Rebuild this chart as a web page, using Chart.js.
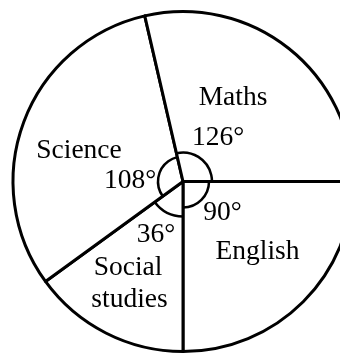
<!DOCTYPE html>
<html>
<head>
<meta charset="utf-8">
<script src="https://cdn.jsdelivr.net/npm/chart.js@4/dist/chart.umd.min.js"></script>
<style>
  html, body { margin: 0; padding: 0; background: #fff; overflow: hidden; }
  #wrap { width: 340px; height: 353px; overflow: hidden; position: relative; }
  canvas { position: absolute; left: 0; top: 0; }
</style>
</head>
<body>
<div id="wrap"><canvas id="grafico" width="366" height="363"></canvas></div>
<script>
// slices in clockwise order starting from the east
const subjects = ['English', 'Social studies', 'Science', 'Maths'];
// slice sizes as drawn in the picture (degrees)
const drawnAngles = [90, 54, 113, 103];
// angle labels written on the picture
const angleLabels = ['90°', '36°', '108°', '126°'];

// label offsets from the pie centre, in px
const nameOffsets = [[[74.5, 77.5]], [[-55, 93.5], [-53.5, 125.5]], [[-104, -24]], [[50, -76.5]]];
const nameLines = [['English'], ['Social', 'studies'], ['Science'], ['Maths']];
const angleOffsets = [[39.5, 38.5], [-27, 60], [-53, 6], [35, -36.5]];
const markRadius = [26, 35, 25, 29];

const FONT = '27.5px "Liberation Serif", "Times New Roman", serif';

const labelsPlugin = {
  id: 'labelsPlugin',
  afterDatasetsDraw(chart) {
    const ctx = chart.ctx;
    const arcs = chart.getDatasetMeta(0).data;
    ctx.save();
    // small angle marks near centre
    ctx.strokeStyle = '#000';
    ctx.lineWidth = 2.5;
    arcs.forEach((a, i) => {
      ctx.beginPath();
      ctx.arc(a.x, a.y, markRadius[i], a.startAngle, a.endAngle);
      ctx.stroke();
    });
    // texts
    ctx.fillStyle = '#000';
    ctx.font = FONT;
    ctx.textAlign = 'center';
    ctx.textBaseline = 'alphabetic';
    arcs.forEach((a, i) => {
      nameLines[i].forEach((txt, k) => {
        ctx.fillText(txt, a.x + nameOffsets[i][k][0], a.y + nameOffsets[i][k][1]);
      });
      ctx.fillText(angleLabels[i], a.x + angleOffsets[i][0], a.y + angleOffsets[i][1]);
    });
    ctx.restore();
  }
};

new Chart(document.getElementById('grafico'), {
  type: 'pie',
  data: {
    labels: subjects,
    datasets: [{
      data: drawnAngles,
      backgroundColor: '#fff',
      borderColor: '#000',
      borderWidth: 3,
      borderJoinStyle: 'round'
    }]
  },
  options: {
    responsive: false,
    animation: false,
    rotation: 90,
    radius: 170,
    layout: { padding: 0 },
    plugins: {
      legend: { display: false },
      tooltip: { enabled: false }
    }
  },
  plugins: [labelsPlugin]
});
</script>
</body>
</html>
